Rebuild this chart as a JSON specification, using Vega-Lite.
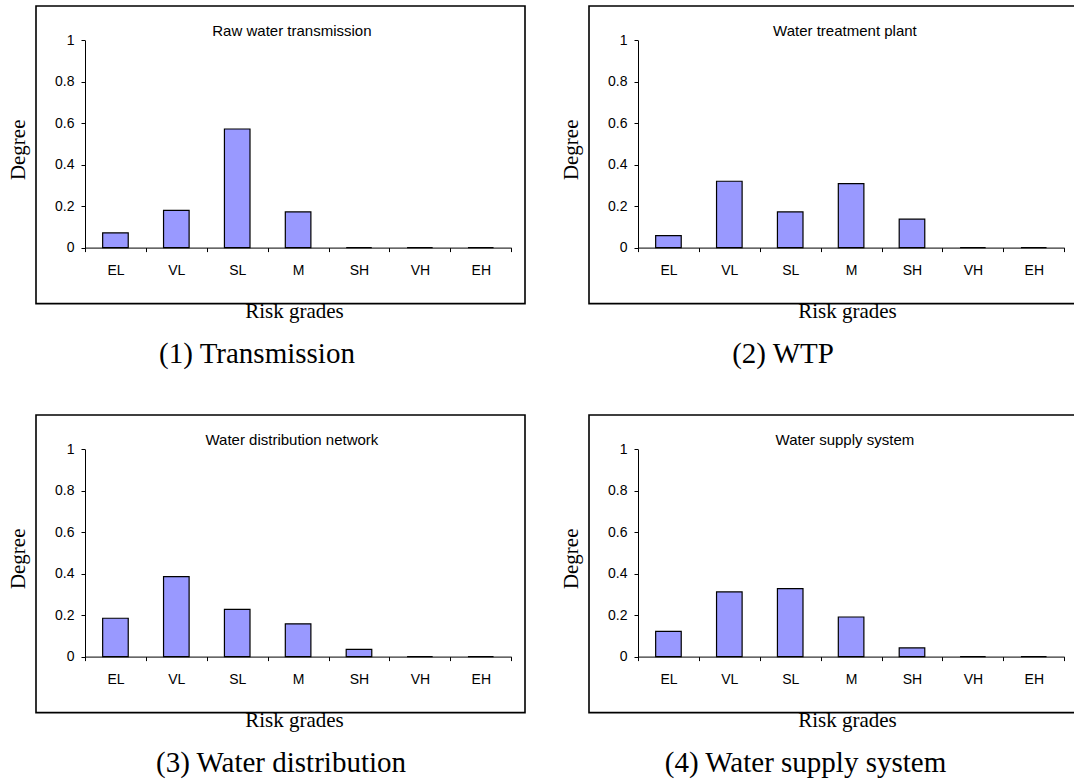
{
  "$schema": "https://vega.github.io/schema/vega-lite/v6.json",
  "padding": {"left": 6, "top": 5, "right": 0, "bottom": 0},
  "background": "white",
  "data": {"values": [
    {"panel": 1, "grade": "EL", "degree": 0.071},
    {"panel": 1, "grade": "VL", "degree": 0.180},
    {"panel": 1, "grade": "SL", "degree": 0.572},
    {"panel": 1, "grade": "M", "degree": 0.172},
    {"panel": 1, "grade": "SH", "degree": 0},
    {"panel": 1, "grade": "VH", "degree": 0},
    {"panel": 1, "grade": "EH", "degree": 0},
    {"panel": 2, "grade": "EL", "degree": 0.058},
    {"panel": 2, "grade": "VL", "degree": 0.320},
    {"panel": 2, "grade": "SL", "degree": 0.172},
    {"panel": 2, "grade": "M", "degree": 0.309},
    {"panel": 2, "grade": "SH", "degree": 0.137},
    {"panel": 2, "grade": "VH", "degree": 0},
    {"panel": 2, "grade": "EH", "degree": 0},
    {"panel": 3, "grade": "EL", "degree": 0.185},
    {"panel": 3, "grade": "VL", "degree": 0.386},
    {"panel": 3, "grade": "SL", "degree": 0.228},
    {"panel": 3, "grade": "M", "degree": 0.158},
    {"panel": 3, "grade": "SH", "degree": 0.035},
    {"panel": 3, "grade": "VH", "degree": 0},
    {"panel": 3, "grade": "EH", "degree": 0},
    {"panel": 4, "grade": "EL", "degree": 0.122},
    {"panel": 4, "grade": "VL", "degree": 0.312},
    {"panel": 4, "grade": "SL", "degree": 0.328},
    {"panel": 4, "grade": "M", "degree": 0.191},
    {"panel": 4, "grade": "SH", "degree": 0.042},
    {"panel": 4, "grade": "VH", "degree": 0},
    {"panel": 4, "grade": "EH", "degree": 0}
  ]},
  "config": {
    "view": {"stroke": "black", "strokeWidth": 1.6},
    "axis": {
      "grid": false,
      "domainColor": "black",
      "domainWidth": 1,
      "tickColor": "black",
      "tickWidth": 1,
      "tickSize": 4,
      "labelColor": "black",
      "labelFont": "Liberation Sans",
      "labelFontSize": 14,
      "titleColor": "black",
      "titleFont": "Liberation Serif",
      "titleFontSize": 21,
      "titleFontWeight": "normal"
    },
    "title": {"color": "black", "fontWeight": "normal"}
  },
  "spacing": 44,
  "vconcat": [
    {
      "spacing": 33,
      "hconcat": [
        {
          "title": {"text": "(1) Transmission", "orient": "bottom", "anchor": "middle", "font": "Liberation Serif", "fontSize": 29, "baseline": "alphabetic", "offset": 41, "dx": -9},
          "vconcat": [
            {
              "width": 489, "height": 297.6,
              "title": {"text": "Raw water transmission", "orient": "top", "anchor": "middle", "offset": -45.3, "baseline": "alphabetic", "font": "Liberation Sans", "fontSize": 15, "dx": 11.4},
              "transform": [{"filter": "datum.panel == 1"}],
              "mark": {"type": "bar", "fill": "#9999FF", "stroke": "black", "strokeWidth": 1.2, "width": {"band": 0.42}},
              "encoding": {
                "x": {"field": "grade", "type": "nominal", "sort": ["EL", "VL", "SL", "M", "SH", "VH", "EH"],
                  "scale": {"domain": ["EL", "VL", "SL", "M", "SH", "VH", "EH"], "range": [49, 475.2], "paddingInner": 0, "paddingOuter": 0},
                  "axis": {"title": "Risk grades", "offset": -56, "labelAngle": 0, "labelPadding": 12, "tickBand": "extent", "titleBaseline": "alphabetic", "titleY": 70, "titleX": 258}},
                "y": {"field": "degree", "type": "quantitative",
                  "scale": {"domain": [0, 1], "range": [241.6, 34.3], "nice": false},
                  "axis": {"title": "Degree", "offset": -49, "values": [0, 0.2, 0.4, 0.6, 0.8, 1], "format": "~g", "labelPadding": 7, "titleBaseline": "alphabetic", "titleX": -61, "titleY": 143.3, "titleAlign": "center", "titleAngle": -90}}
              }
            }
          ]
        },
        {
          "title": {"text": "(2) WTP", "orient": "bottom", "anchor": "middle", "font": "Liberation Serif", "fontSize": 29, "baseline": "alphabetic", "offset": 41, "dx": -36},
          "vconcat": [
            {
              "width": 489, "height": 297.6,
              "title": {"text": "Water treatment plant", "orient": "top", "anchor": "middle", "offset": -45.3, "baseline": "alphabetic", "font": "Liberation Sans", "fontSize": 15, "dx": 11.4},
              "transform": [{"filter": "datum.panel == 2"}],
              "mark": {"type": "bar", "fill": "#9999FF", "stroke": "black", "strokeWidth": 1.2, "width": {"band": 0.42}},
              "encoding": {
                "x": {"field": "grade", "type": "nominal", "sort": ["EL", "VL", "SL", "M", "SH", "VH", "EH"],
                  "scale": {"domain": ["EL", "VL", "SL", "M", "SH", "VH", "EH"], "range": [49, 475.2], "paddingInner": 0, "paddingOuter": 0},
                  "axis": {"title": "Risk grades", "offset": -56, "labelAngle": 0, "labelPadding": 12, "tickBand": "extent", "titleBaseline": "alphabetic", "titleY": 70, "titleX": 258}},
                "y": {"field": "degree", "type": "quantitative",
                  "scale": {"domain": [0, 1], "range": [241.6, 34.3], "nice": false},
                  "axis": {"title": "Degree", "offset": -49, "values": [0, 0.2, 0.4, 0.6, 0.8, 1], "format": "~g", "labelPadding": 7, "titleBaseline": "alphabetic", "titleX": -61, "titleY": 143.3, "titleAlign": "center", "titleAngle": -90}}
              }
            }
          ]
        }
      ]
    },
    {
      "spacing": 33,
      "hconcat": [
        {
          "title": {"text": "(3) Water distribution", "orient": "bottom", "anchor": "middle", "font": "Liberation Serif", "fontSize": 29, "baseline": "alphabetic", "offset": 41, "dx": 15},
          "vconcat": [
            {
              "width": 489, "height": 297.6,
              "title": {"text": "Water distribution network", "orient": "top", "anchor": "middle", "offset": -45.3, "baseline": "alphabetic", "font": "Liberation Sans", "fontSize": 15, "dx": 11.4},
              "transform": [{"filter": "datum.panel == 3"}],
              "mark": {"type": "bar", "fill": "#9999FF", "stroke": "black", "strokeWidth": 1.2, "width": {"band": 0.42}},
              "encoding": {
                "x": {"field": "grade", "type": "nominal", "sort": ["EL", "VL", "SL", "M", "SH", "VH", "EH"],
                  "scale": {"domain": ["EL", "VL", "SL", "M", "SH", "VH", "EH"], "range": [49, 475.2], "paddingInner": 0, "paddingOuter": 0},
                  "axis": {"title": "Risk grades", "offset": -56, "labelAngle": 0, "labelPadding": 12, "tickBand": "extent", "titleBaseline": "alphabetic", "titleY": 70, "titleX": 258}},
                "y": {"field": "degree", "type": "quantitative",
                  "scale": {"domain": [0, 1], "range": [241.6, 34.3], "nice": false},
                  "axis": {"title": "Degree", "offset": -49, "values": [0, 0.2, 0.4, 0.6, 0.8, 1], "format": "~g", "labelPadding": 7, "titleBaseline": "alphabetic", "titleX": -61, "titleY": 143.3, "titleAlign": "center", "titleAngle": -90}}
              }
            }
          ]
        },
        {
          "title": {"text": "(4) Water supply system", "orient": "bottom", "anchor": "middle", "font": "Liberation Serif", "fontSize": 29, "baseline": "alphabetic", "offset": 41, "dx": -13.5},
          "vconcat": [
            {
              "width": 489, "height": 297.6,
              "title": {"text": "Water supply system", "orient": "top", "anchor": "middle", "offset": -45.3, "baseline": "alphabetic", "font": "Liberation Sans", "fontSize": 15, "dx": 11.4},
              "transform": [{"filter": "datum.panel == 4"}],
              "mark": {"type": "bar", "fill": "#9999FF", "stroke": "black", "strokeWidth": 1.2, "width": {"band": 0.42}},
              "encoding": {
                "x": {"field": "grade", "type": "nominal", "sort": ["EL", "VL", "SL", "M", "SH", "VH", "EH"],
                  "scale": {"domain": ["EL", "VL", "SL", "M", "SH", "VH", "EH"], "range": [49, 475.2], "paddingInner": 0, "paddingOuter": 0},
                  "axis": {"title": "Risk grades", "offset": -56, "labelAngle": 0, "labelPadding": 12, "tickBand": "extent", "titleBaseline": "alphabetic", "titleY": 70, "titleX": 258}},
                "y": {"field": "degree", "type": "quantitative",
                  "scale": {"domain": [0, 1], "range": [241.6, 34.3], "nice": false},
                  "axis": {"title": "Degree", "offset": -49, "values": [0, 0.2, 0.4, 0.6, 0.8, 1], "format": "~g", "labelPadding": 7, "titleBaseline": "alphabetic", "titleX": -61, "titleY": 143.3, "titleAlign": "center", "titleAngle": -90}}
              }
            }
          ]
        }
      ]
    }
  ]
}
